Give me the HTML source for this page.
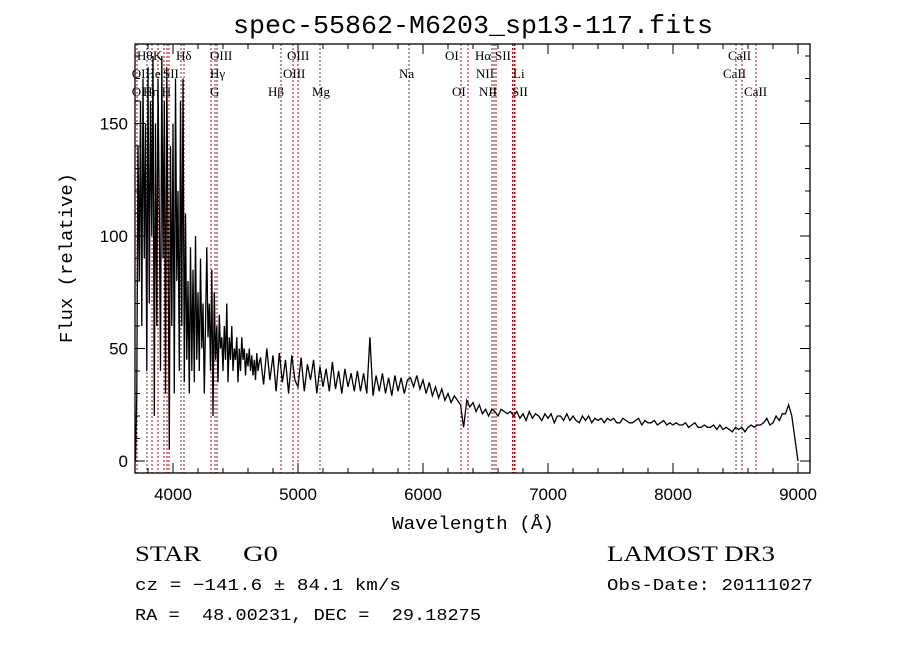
<!DOCTYPE html>
<html><head><meta charset="utf-8"><style>
body{margin:0;background:#fff}
svg{display:block}
text{font-family:"Liberation Sans",sans-serif;fill:#000}
.lbl{font-family:"Liberation Serif",serif;font-size:13px}
</style></head><body>
<svg id="chart" width="900" height="649" viewBox="0 0 900 649">
<rect width="900" height="649" fill="#fff"/>
<text x="473" y="33" font-size="26" text-anchor="middle" textLength="480" lengthAdjust="spacingAndGlyphs" style="font-family:'Liberation Mono',monospace">spec-55862-M6203_sp13-117.fits</text>
<g id="lines"></g>
<g id="spec"></g>
<g id="axes"></g>
<text x="473" y="529" font-size="18" text-anchor="middle" textLength="162" lengthAdjust="spacingAndGlyphs" style="font-family:'Liberation Mono',monospace">Wavelength (Å)</text>
<text transform="translate(72,258) rotate(-90)" font-size="18" text-anchor="middle" textLength="170" lengthAdjust="spacingAndGlyphs" style="font-family:'Liberation Mono',monospace">Flux (relative)</text>
<text x="135" y="561" font-size="22" textLength="66" lengthAdjust="spacingAndGlyphs" style="font-family:'Liberation Serif',serif">STAR</text>
<text x="243" y="561" font-size="22" textLength="35" lengthAdjust="spacingAndGlyphs" style="font-family:'Liberation Serif',serif">G0</text>
<text x="607" y="561" font-size="22" textLength="168" lengthAdjust="spacingAndGlyphs" style="font-family:'Liberation Serif',serif">LAMOST DR3</text>
<text x="135" y="590" font-size="17" textLength="266" lengthAdjust="spacingAndGlyphs" xml:space="preserve" style="font-family:'Liberation Mono',monospace">cz = −141.6 ± 84.1 km/s</text>
<text x="607" y="590" font-size="17" textLength="206" lengthAdjust="spacingAndGlyphs" style="font-family:'Liberation Mono',monospace">Obs-Date: 20111027</text>
<text x="135" y="620" font-size="17" textLength="346" lengthAdjust="spacingAndGlyphs" xml:space="preserve" style="font-family:'Liberation Mono',monospace;white-space:pre">RA =  48.00231, DEC =  29.18275</text>
</svg>
<script>
const flux1=[0,30,140,80,160,60,170,90,150,40,
175,70,160,100,180,20,150,60,170,110,
40,180,90,160,30,175,100,5,140,60,
150,30,170,80,120,40,160,60,170,35,
110,45,80,30,95,40,85,35,100,45,
75,40,90,50,70,30,60,95,55,70,
40,85,20,75,45,60,35,65,50,55,
40,60,45,70,35,55,45,60,40,50,
45,55,35,50,40,55,45,50,38,48,
42,50,40,47,38,45,36,48,40,44];
const flux2=[46,34,50,36,47,31,48,35,45,30,47,36,33,46,31,43,
36,45,30,42,33,41,31,44,32,40,30,41,33,39,31,40,
31,39,30,55,29,38,31,39,30,37,29,38,31,37,30,36,
37,33,38,32,36,30,35,29,33,28,32,27,30,26,29,27,
25,15,27,24,26,22,25,21,23,20,23,22,20,23,22,21,
22,20,22,19,21,18,22,19,21,20,18,21,19,21,17,20,
20,18,21,18,20,18,17,20,18,20,17,19,18,19,17,19,
18,19,17,17,19,18,17,17,18,19,16,18,17,17,18,16,
17,18,16,17,16,17,16,16,17,15,16,17,15,15,16,15,
15,16,14,16,14,15,14,13,15,14,15,13,15,16,15,16,
16,17,19,16,17,20,18,21,21,25,20,10,0];
const lineWl=[3712,3792,3832,3880,3928,3952,3968,4064,4088,4304,4336,4352,4864,4960,5000,5176,5888,6304,6360,6552,6568,6584,6716,6728,6736,8504,8552,8664];
const lineCol=["r","k","r","r","r","r","r","k","r","r","k","r","r","r","r","k","k","r","r","r","k","r","r","r","r","k","r","r"];
const labelText=["Hθ","K","Hδ","OIII","OIII","OI","Hα","SII","CaII","OII","He","SII","Hγ","OIII","Na","NII","Li","CaII","OII","Hη","H","G","Hβ","Mg","OI","NII","SII","CaII"];
const labelWl=[3712,3840,4024,4296,4912,6176,6416,6576,8440,3670,3780,3920,4296,4880,5808,6424,6720,8400,3670,3760,3910,4296,4760,5112,6232,6448,6712,8568];
const labelRow=[1,1,1,1,1,1,1,1,1,2,2,2,2,2,2,2,2,2,3,3,3,3,3,3,3,3,3,3];
const xTicks=[4000,5000,6000,7000,8000,9000];
const yTicks=[0,50,100,150];
const NS="http://www.w3.org/2000/svg";
const L=135,R=810,T=44,B=473;
const X=w=>173+(w-4000)*0.125;
const Y=f=>461-f*2.25;
function mk(tag,attrs,parent){const e=document.createElementNS(NS,tag);for(const k in attrs)e.setAttribute(k,attrs[k]);parent.appendChild(e);return e;}
const gl=document.getElementById('lines');
lineWl.forEach((w,i)=>{const e=mk('line',{x1:X(w),x2:X(w),y1:T,y2:B,stroke:lineCol[i]==='r'?'#c00000':'#444','stroke-width':1,'stroke-dasharray':'2,2'},gl);

});
labelText.forEach((t,i)=>{const e=mk('text',{x:X(labelWl[i]),y:42+labelRow[i]*18,class:'lbl'},gl);e.textContent=t;

});
const pts=[];
flux1.forEach((f,i)=>pts.push(X(3700+i*10).toFixed(1)+','+Y(Math.min(f,183)).toFixed(1)));
flux2.forEach((f,i)=>pts.push(X(4700+i*25).toFixed(1)+','+Y(f).toFixed(1)));
const sp=mk('polyline',{points:pts.join(' '),fill:'none',stroke:'#000','stroke-width':1.3},document.getElementById('spec'));


const ga=document.getElementById('axes');
const fr=mk('rect',{x:L,y:T,width:R-L,height:B-T,fill:'none',stroke:'#000','stroke-width':1.3},ga);


for(let w=3800;w<=9000;w+=200){const maj=w%1000===0,len=maj?10:5;
mk('line',{x1:X(w),x2:X(w),y1:B,y2:B-len,stroke:'#000'},ga);mk('line',{x1:X(w),x2:X(w),y1:T,y2:T+len,stroke:'#000'},ga);}
for(let f=0;f<=180;f+=10){const maj=f%50===0,len=maj?10:5;
mk('line',{x1:L,x2:L+len,y1:Y(f),y2:Y(f),stroke:'#000'},ga);mk('line',{x1:R,x2:R-len,y1:Y(f),y2:Y(f),stroke:'#000'},ga);}
xTicks.forEach(w=>{const e=mk('text',{x:X(w),y:500,'font-size':17,'text-anchor':'middle'},ga);e.textContent=w;

});
yTicks.forEach(f=>{const e=mk('text',{x:128,y:Y(f)+6,'font-size':17,'text-anchor':'end'},ga);e.textContent=f;

});
</script>
</body></html>
